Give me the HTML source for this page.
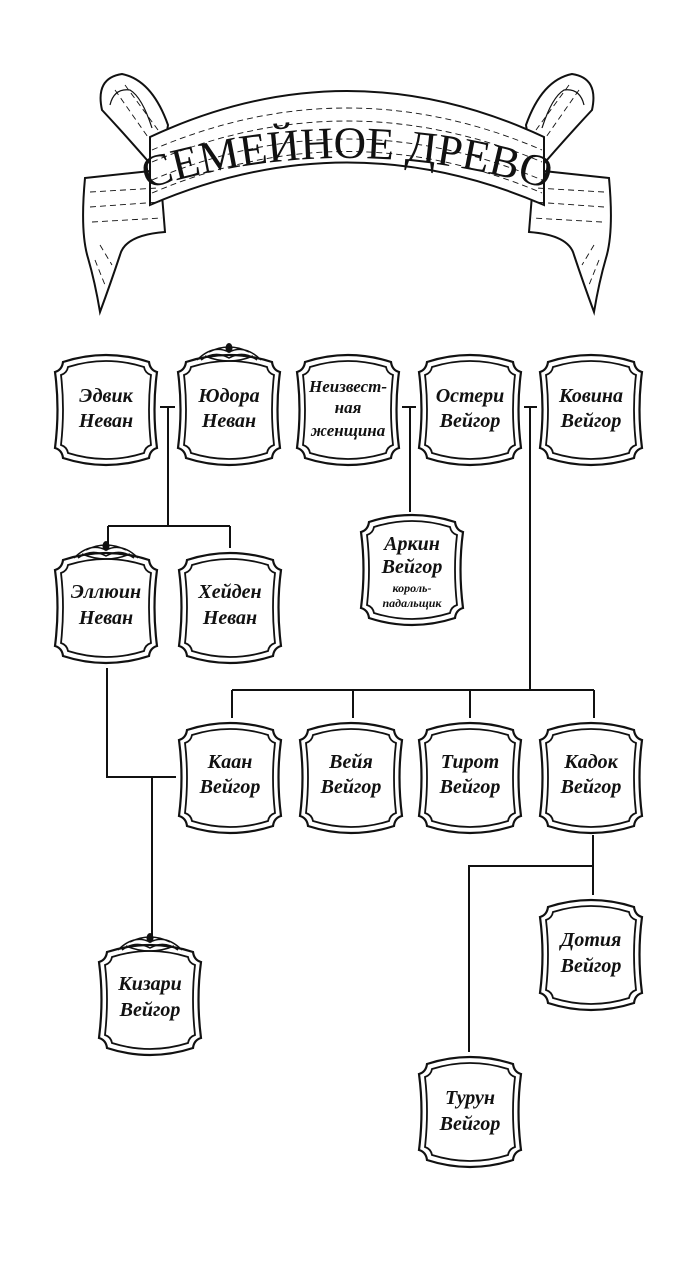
<!DOCTYPE html>
<html><head><meta charset="utf-8"><style>
html,body{margin:0;padding:0;background:#fff;}
svg{display:block;}
.t{font-family:"Liberation Serif",serif;font-style:italic;font-weight:bold;font-size:20px;fill:#111;text-anchor:middle;}
.s{font-family:"Liberation Serif",serif;font-style:italic;font-weight:bold;font-size:12px;fill:#111;text-anchor:middle;}
.ln{stroke:#111;stroke-width:2;fill:none;}
</style></head><body>
<svg width="694" height="1280" viewBox="0 0 694 1280" xmlns="http://www.w3.org/2000/svg">
<defs>
<g id="fr">
<path d="M3,22 Q10,20 11,12 Q54,-2 97,12 Q98,20 105,22 Q100,59 105,98 Q98,100 97,108 Q54,122 11,108 Q10,100 3,98 Q8,59 3,22 Z" fill="#fff" stroke="#111" stroke-width="2.2"/>
<path d="M9,25 Q15,23 16,17 Q54,5 92,17 Q93,23 99,25 Q95,59 99,95 Q93,97 92,103 Q54,115 16,103 Q15,97 9,95 Q13,59 9,25 Z" fill="none" stroke="#111" stroke-width="1.8"/>
</g>
<g id="orn">
<path d="M22,18 Q38,2 54,10 Q70,2 86,18 M26,18 Q40,8 54,16 Q68,8 82,18 M30,14 Q54,24 78,14 M34,10 Q54,0 74,10" fill="none" stroke="#111" stroke-width="1.5"/>
<ellipse cx="54" cy="6" rx="3.5" ry="5" fill="#111"/>
</g>
</defs>

<!-- Banner -->
<g stroke="#111" fill="#fff" stroke-width="2">
<!-- left roll -->
<path d="M102,110 Q95,78 122,74 Q152,80 168,125 L160,175 Q130,140 102,110 Z"/>
<path d="M110,105 Q114,88 130,90 Q142,97 152,128" fill="none" stroke-width="1.2"/>
<!-- right roll -->
<path d="M592,110 Q599,78 572,74 Q542,80 526,125 L534,175 Q564,140 592,110 Z"/>
<path d="M584,105 Q580,88 564,90 Q552,97 542,128" fill="none" stroke-width="1.2"/>
<!-- left tail -->
<path d="M85,178 L160,170 L165,232 Q125,235 120,255 Q110,285 100,312 Q95,282 88,258 Q80,232 85,178 Z"/>
<!-- right tail -->
<path d="M609,178 L534,170 L529,232 Q569,235 574,255 Q584,285 594,312 Q599,282 606,258 Q614,232 609,178 Z"/>
<!-- main band -->
<path d="M150,137 Q347,45 544,137 L544,205 Q347,120 150,205 Z"/>
</g>
<g stroke="#111" stroke-width="0.9" fill="none" stroke-dasharray="6,4">
<path d="M152,150 Q347,66 542,150"/>
<path d="M152,162 Q347,80 542,162"/>
<path d="M152,180 Q347,98 542,180"/>
<path d="M152,193 Q347,110 542,193"/>
<path d="M90,192 L158,188 M90,207 L160,202 M92,222 L162,218 M604,192 L536,188 M604,207 L534,202 M602,222 L532,218"/>
<path d="M100,245 L112,265 M95,260 L105,285 M594,245 L582,265 M599,260 L589,285"/>
<path d="M115,90 L150,140 M125,85 L158,130 M579,90 L544,140 M569,85 L536,130"/>
</g>
<path id="tp" d="M122,197 Q347,119 572,197" fill="none"/>
<text font-family="Liberation Serif,serif" font-size="45" fill="#111"><textPath href="#tp" startOffset="50%" text-anchor="middle">СЕМЕЙНОЕ ДРЕВО</textPath></text>

<!-- connectors -->
<g class="ln">
<path d="M160,407 H175 M168,407 V526 M108,526 H230 M108,526 V548 M230,526 V548"/>
<path d="M402,407 H416 M410,407 V512"/>
<path d="M524,407 H537 M530,407 V690 M232,690 H594 M232,690 V718 M353,690 V718 M470,690 V718 M594,690 V718"/>
<path d="M107,668 V777 H176 M152,777 V940"/>
<path d="M593,835 V895 M593,866 H469 V1052"/>
</g>

<!-- nodes -->
<use href="#fr" x="52" y="350"/>
<text class="t" x="106" y="402">Эдвик</text><text class="t" x="106" y="427">Неван</text>
<use href="#fr" x="175" y="350"/><use href="#orn" x="175" y="342"/>
<text class="t" x="229" y="402">Юдора</text><text class="t" x="229" y="427">Неван</text>
<use href="#fr" x="294" y="350"/>
<text class="t" x="348" y="392" style="font-size:17px">Неизвест-</text><text class="t" x="348" y="413" style="font-size:17px">ная</text><text class="t" x="348" y="436" style="font-size:17px">женщина</text>
<use href="#fr" x="416" y="350"/>
<text class="t" x="470" y="402">Остери</text><text class="t" x="470" y="427">Вейгор</text>
<use href="#fr" x="537" y="350"/>
<text class="t" x="591" y="402">Ковина</text><text class="t" x="591" y="427">Вейгор</text>

<use href="#fr" x="358" y="510"/>
<text class="t" x="412" y="550">Аркин</text><text class="t" x="412" y="573">Вейгор</text>
<text class="s" x="412" y="592">король-</text><text class="s" x="412" y="607">падальщик</text>

<use href="#fr" x="52" y="548"/><use href="#orn" x="52" y="540"/>
<text class="t" x="106" y="598">Эллюин</text><text class="t" x="106" y="624">Неван</text>
<use href="#fr" x="176" y="548"/>
<text class="t" x="230" y="598">Хейден</text><text class="t" x="230" y="624">Неван</text>

<use href="#fr" x="176" y="718"/>
<text class="t" x="230" y="768">Каан</text><text class="t" x="230" y="793">Вейгор</text>
<use href="#fr" x="297" y="718"/>
<text class="t" x="351" y="768">Вейя</text><text class="t" x="351" y="793">Вейгор</text>
<use href="#fr" x="416" y="718"/>
<text class="t" x="470" y="768">Тирот</text><text class="t" x="470" y="793">Вейгор</text>
<use href="#fr" x="537" y="718"/>
<text class="t" x="591" y="768">Кадок</text><text class="t" x="591" y="793">Вейгор</text>

<use href="#fr" x="96" y="940"/><use href="#orn" x="96" y="932"/>
<text class="t" x="150" y="990">Кизари</text><text class="t" x="150" y="1016">Вейгор</text>
<use href="#fr" x="537" y="895"/>
<text class="t" x="591" y="946">Дотия</text><text class="t" x="591" y="972">Вейгор</text>
<use href="#fr" x="416" y="1052"/>
<text class="t" x="470" y="1104">Турун</text><text class="t" x="470" y="1130">Вейгор</text>
</svg>
</body></html>
